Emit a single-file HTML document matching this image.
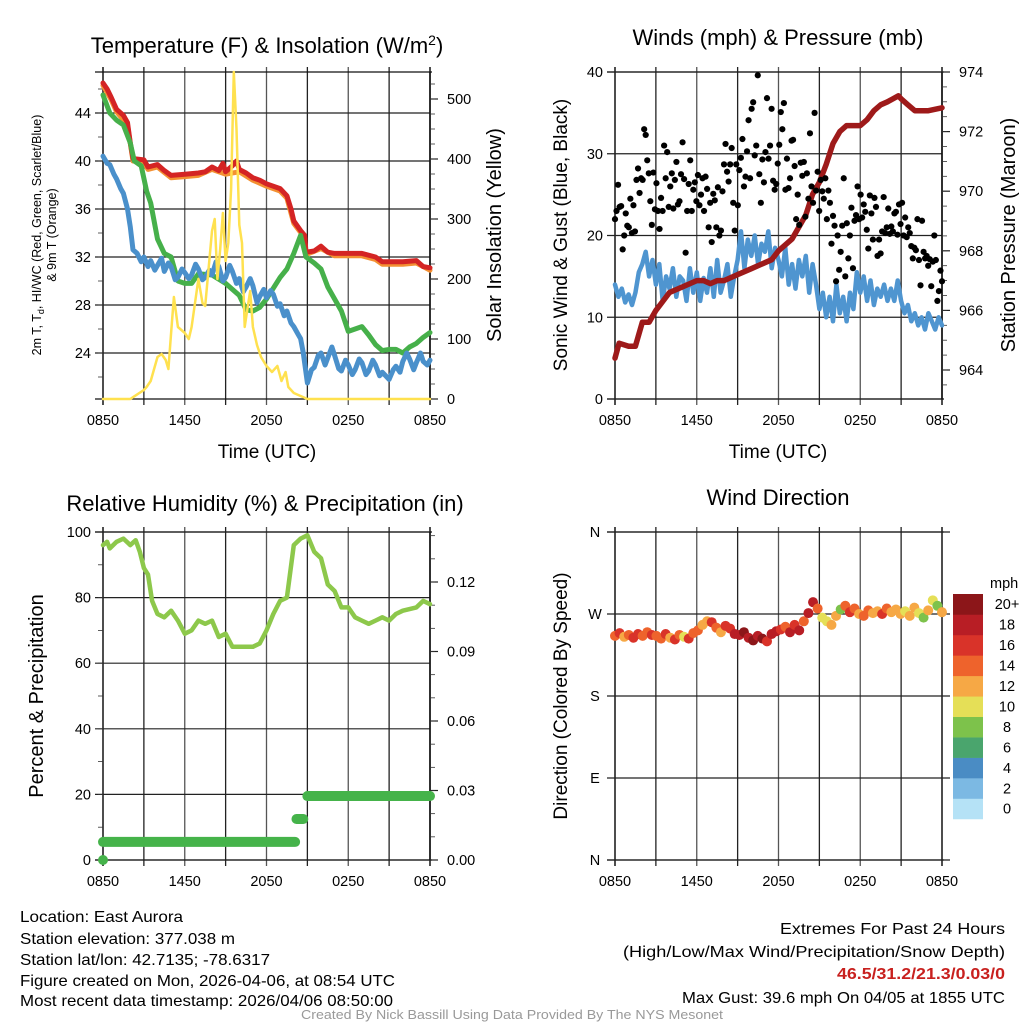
<!DOCTYPE html>
<html><head><meta charset="utf-8"><style>
body{margin:0;background:#fff}
svg{display:block;font-family:"Liberation Sans",sans-serif}
</style></head><body>
<svg id="c" width="1024" height="1024" viewBox="0 0 1024 1024" xmlns="http://www.w3.org/2000/svg">
<rect width="1024" height="1024" fill="#fff"/>
<text x="267" y="53" font-size="22" text-anchor="middle">Temperature (F) &amp; Insolation (W/m<tspan dy="-8" font-size="14">2</tspan><tspan dy="8">)</tspan></text>
<text x="778" y="45" font-size="22" text-anchor="middle">Winds (mph) &amp; Pressure (mb)</text>
<text x="265" y="511" font-size="22" text-anchor="middle">Relative Humidity (%) &amp; Precipitation (in)</text>
<text x="778" y="505" font-size="22" text-anchor="middle">Wind Direction</text>
<text x="267" y="458" font-size="19" text-anchor="middle">Time (UTC)</text>
<text x="778" y="458" font-size="19" text-anchor="middle">Time (UTC)</text>
<text transform="translate(41,235) rotate(-90)" font-size="12.5" text-anchor="middle">2m T, T<tspan dy="3" font-size="9">d</tspan><tspan dy="-3">, HI/WC (Red, Green, Scarlet/Blue)</tspan></text>
<text transform="translate(56,235) rotate(-90)" font-size="12.5" text-anchor="middle">&amp; 9m T (Orange)</text>
<text transform="translate(501,235) rotate(-90)" font-size="20" text-anchor="middle">Solar Insolation (Yellow)</text>
<text transform="translate(567,235) rotate(-90)" font-size="19" text-anchor="middle">Sonic Wind &amp; Gust (Blue, Black)</text>
<text transform="translate(1015,235) rotate(-90)" font-size="20" text-anchor="middle">Station Pressure (Maroon)</text>
<text transform="translate(43,696) rotate(-90)" font-size="20" text-anchor="middle">Percent &amp; Precipitation</text>
<text transform="translate(567,696) rotate(-90)" font-size="19" text-anchor="middle">Direction (Colored By Speed)</text>
<g id="p1"></g>
<g id="p2"></g>
<g id="p3"></g>
<g id="p4"></g>
<g font-size="16">
<text x="20" y="922" textLength="163" lengthAdjust="spacingAndGlyphs">Location: East Aurora</text>
<text x="20" y="944" textLength="215" lengthAdjust="spacingAndGlyphs">Station elevation: 377.038 m</text>
<text x="20" y="965" textLength="250" lengthAdjust="spacingAndGlyphs">Station lat/lon: 42.7135; -78.6317</text>
<text x="20" y="986" textLength="375" lengthAdjust="spacingAndGlyphs">Figure created on Mon, 2026-04-06, at 08:54 UTC</text>
<text x="20" y="1006" textLength="373" lengthAdjust="spacingAndGlyphs">Most recent data timestamp: 2026/04/06 08:50:00</text>
</g>
<g font-size="16" text-anchor="end">
<text x="1005" y="934" textLength="225" lengthAdjust="spacingAndGlyphs">Extremes For Past 24 Hours</text>
<text x="1005" y="957" textLength="382" lengthAdjust="spacingAndGlyphs">(High/Low/Max Wind/Precipitation/Snow Depth)</text>
<text x="1005" y="979" textLength="168" lengthAdjust="spacingAndGlyphs" fill="#c8201e" font-weight="bold">46.5/31.2/21.3/0.03/0</text>
<text x="1005" y="1003" textLength="323" lengthAdjust="spacingAndGlyphs">Max Gust: 39.6 mph On 04/05 at 1855 UTC</text>
</g>
<text x="512" y="1019" font-size="13" fill="#999" text-anchor="middle" textLength="422" lengthAdjust="spacingAndGlyphs">Created By Nick Bassill Using Data Provided By The NYS Mesonet</text>
</svg>
<script>
const xTickLabels = ["0850","1450","2050","0250","0850"];
const tempTicks = [24,28,32,36,40,44];
const solarTicks = [0,100,200,300,400,500];
const windTicks = [0,10,20,30,40];
const presTicks = [964,966,968,970,972,974];
const rhTicks = [0,20,40,60,80,100];
const precipTicks = [0.00,0.03,0.06,0.09,0.12];
const dirTickLabels = ["N","E","S","W","N"];
const speedBinLabels = ["0","2","4","6","8","10","12","14","16","18","20+"];

const tempRed = [[0,46.5],[0.3,46],[0.6,45.3],[1,44.3],[1.5,43.8],[1.8,43.2],[2,41.5],[2.2,40.2],[3,40.1],[3.3,39.5],[4,39.7],[4.5,39.2],[5,38.8],[6,38.9],[7,39],[7.5,39.1],[8,39.5],[8.5,39.2],[8.8,39.8],[9,39.1],[9.5,39.6],[9.8,40],[10,39.3],[10.5,39],[11,38.6],[11.5,38.4],[12,38.1],[13,37.7],[13.5,37.1],[13.8,36],[14,35],[14.5,34.2],[14.8,33.8],[14.9,32.4],[15.5,32.5],[16,32.9],[16.5,32.4],[17,32.3],[18,32.3],[19,32.3],[20,32],[20.5,31.6],[21,31.6],[22,31.6],[23,31.7],[23.5,31.2],[24,31.1]];
const tempOrange = [[0,46.3],[0.6,45.1],[1,44.1],[1.8,43],[2.2,40],[3,39.9],[3.3,39.3],[4,39.5],[5,38.6],[6,38.7],[7,38.8],[8,39.3],[9,38.9],[10,39.1],[11,38.4],[12,37.9],[13,37.5],[13.5,36.9],[14,34.8],[14.8,33.6],[14.9,32.2],[16,32.7],[17,32.1],[19,32.1],[20,31.8],[20.5,31.4],[22,31.4],[23,31.5],[24,30.9]];
const tempGreen = [[0,45.5],[0.5,44],[1,43.4],[1.5,43],[2,41.5],[2.3,40],[2.8,39.6],[3.2,37.5],[3.5,36.5],[4,33.5],[4.5,32.3],[5,32],[5.5,30],[6,29.8],[6.5,29.8],[7,30.6],[8,30.5],[9,29.8],[9.5,29.3],[10,28.8],[10.5,27.6],[11,27.5],[11.5,27.8],[12,28.5],[13,30.3],[13.5,31],[14,32.3],[14.5,33.8],[14.9,32],[15.5,31.5],[16,31],[16.5,29.5],[17,28.5],[17.5,27.5],[18,25.8],[18.5,26],[19,26.2],[19.5,25.5],[20,24.7],[20.5,24.2],[21,24.3],[21.5,24.3],[22,24],[22.5,24.5],[23,24.8],[23.5,25.3],[24,25.7]];
const tempBlue = [[0,40.4],[0.3,39.8],[0.5,39.7],[0.8,38.9],[1,38.5],[1.3,37.7],[1.5,37.3],[1.8,36],[2,34.5],[2.2,32.6],[2.5,32.3],[2.8,31.6],[3,32],[3.3,31.2],[3.5,31.7],[3.8,30.9],[4,31.3],[4.3,31.9],[4.5,30.8],[4.8,31.5],[5,31.2],[5.3,30.1],[5.5,30.3],[5.8,31],[6,30.7],[6.3,30.2],[6.5,30.5],[6.8,31.4],[7,31],[7.3,30.1],[7.5,30.3],[7.8,30.9],[8,30.5],[8.3,31.6],[8.5,31.2],[8.8,30],[9,30.3],[9.3,31.3],[9.5,30.8],[9.8,29.8],[10,30.2],[10.3,29.1],[10.5,29.5],[10.8,30.2],[11,29.6],[11.3,28.2],[11.5,28.7],[11.8,29.3],[12,28.6],[12.3,29.2],[12.5,28.9],[12.8,27.9],[13,28.1],[13.3,27.1],[13.5,27.5],[13.8,26.5],[14,26.2],[14.3,25.6],[14.5,25.2],[14.7,24],[15,21.5],[15.3,22.6],[15.5,22.8],[15.8,23.8],[16,24],[16.3,23],[16.5,23.6],[16.8,24.5],[17,23.8],[17.3,22.7],[17.5,22.5],[17.8,23.4],[18,23],[18.3,22.2],[18.5,22.6],[18.8,23.5],[19,23.2],[19.3,22.2],[19.5,22.5],[19.8,23.4],[20,23],[20.3,22.1],[20.5,22.4],[21,21.8],[21.3,22.6],[21.5,22.9],[21.8,22.4],[22,23.3],[22.3,24],[22.5,23.5],[22.8,22.6],[23,23.2],[23.3,24],[23.5,23.3],[23.8,23],[24,23.4]];
const solar = [[0,0],[2,0],[2.2,3],[3,15],[3.2,20],[3.5,30],[4,70],[4.3,75],[4.6,65],[4.8,50],[5,110],[5.2,170],[5.5,120],[6,110],[6.3,100],[6.5,120],[7,200],[7.3,160],[7.5,155],[8,280],[8.2,300],[8.4,200],[8.6,250],[8.8,310],[9,230],[9.2,260],[9.4,350],[9.6,545],[9.8,450],[10,290],[10.2,260],[10.4,120],[10.6,150],[10.8,180],[11,120],[11.3,90],[11.6,70],[12,55],[12.4,45],[12.8,55],[13.1,30],[13.4,45],[13.6,20],[14,10],[14.5,5],[15,0],[24,0]];

const windSust = [14,12.5,13.5,11.8,12.8,11.5,13,15.5,16.5,18,15,17,14,16.5,12,15,13.5,16,12.5,15,14.5,12,16,13,15.5,12,14.8,13,16,12.5,17,13,14.5,16.5,12.5,15,17,20.5,16,19.5,17.5,20,16.5,19,18,20.5,16,18.5,17,15,18.5,14,16.5,13.5,17,15,17.5,13,16.5,14,11,13,10,12.5,9.5,14,10.5,12.5,9.5,13,11,15.5,13,15,12,14.5,11.5,13.5,12.5,14,12,13.5,12,14.5,12,10.5,11.5,9.5,10.5,9,10,8.5,10.5,9.5,8.5,10,9];
const windGust = [22,23,26.2,23.5,23.6,18.3,20,22.7,21.2,21,24.5,20.3,23.7,20.5,26.8,28.2,25.2,27,26.8,33,32.3,29.2,27.6,24.2,21.3,27.7,23.2,26.4,23,20.8,24.6,23,31,27,30.2,23.5,26,27.6,23.3,26.8,29,23.8,24.2,27.5,31.4,26.9,17.9,23,26.3,29.2,23,25.6,26.5,24.2,27.4,23.7,25,27,23,27.2,25.7,21,24,19.2,25.1,24.3,21,25.9,20,20.6,25.4,28.7,31.2,27.8,26.6,28.7,30.7,24,20.6,28.7,23.7,28,29.5,31.8,26,27.2,30.3,34.1,27,35.5,36.3,29.8,31,39.6,27.5,24,29.3,26.5,30.2,36.8,29.4,31,35.5,26.7,25.6,26.3,28.8,31.1,35.1,33,36.2,25.6,29.4,25.8,27,31.6,31.7,28.5,22,25,21.3,28.9,27.3,29,22.3,27.6,24.5,32.5,26,24,35,25.5,27.8,23,26.8,25.4,24.5,27,22,25.5,24,19,22.4,21.2,14.4,20,15.8,18,21.2,27,15,21.5,17.2,20,23.4,16,21.8,22.5,26,22,25,22.2,23.8,22.9,20.7,18.4,24.9,22.7,19.5,24.6,23.5,17.5,19.5,17.8,20.5,24.7,20.3,21,23.3,20.2,21.1,20.5,22.7,22.9,20.1,23.8,21.4,24,20,22.2,19.8,21,20.3,18.7,17.2,18.5,18.2,22,17,13.9,21.8,18,17.2,17.5,16.3,17.1,13.8,16.8,20,17,12,13.2,15.7,14.4];
const pressure = [[0,964.4],[0.3,964.9],[1,964.8],[1.5,964.8],[2,965.6],[2.5,965.6],[3,966],[3.5,966.3],[4,966.6],[5,966.8],[6,967],[6.5,967],[7,966.9],[7.5,967],[8,967],[9,967.2],[10,967.4],[11,967.6],[11.5,967.7],[12,968],[13,968.4],[14,969.2],[14.5,969.9],[15,970.3],[15.5,970.9],[16,971.6],[16.5,972],[17,972.2],[17.5,972.2],[18,972.2],[18.5,972.4],[19,972.7],[19.5,972.9],[20,973],[20.8,973.2],[21,973.1],[21.5,972.9],[22,972.7],[22.5,972.7],[23,972.7],[24,972.8]];

const rh = [[0,96],[0.3,97],[0.5,95],[1,97],[1.5,98],[2,96],[2.4,97.5],[2.7,94],[3,89],[3.3,87],[3.6,79],[4,75],[4.5,74],[5,76],[5.5,73],[6,69],[6.5,70],[7,73],[7.5,72],[8,73],[8.5,68],[9,69],[9.5,65],[10,65],[10.5,65],[11,65],[11.5,66],[12,70],[12.5,75],[13,79],[13.5,80],[14,96],[14.5,98],[15,99],[15.5,94],[16,92],[16.5,84],[17,82],[17.5,77],[18,77],[18.5,74],[19,73],[19.5,72],[20,73],[20.5,74],[21,73],[21.5,75],[22,76],[23,77],[23.5,79],[24,78]];
const precipSegs = [[0,0,0],[0,14.1,0.0078],[14.2,14.7,0.0177],[15,24,0.0276]];

const dirs = [246,249,245,247,244,248,246,250,247,246,243,248,244,242,247,245,243,249,252,258,262,261,255,250,257,254,248,247,250,244,241,246,243,240,248,251,253,256,250,258,252,262,271,283,276,266,262,258,268,275,279,272,276,270,268,274,271,273,270,276,272,275,270,273,268,277,271,266,274,285,279,272];
const speeds = [14,16,13,15,17,16,15,14,16,15,14,16,13,17,15,11,16,15,14,13,12,16,15,13,17,16,18,19,20,18,21,19,20,17,18,19,17,15,18,16,19,15,18,19,15,11,10,12,13,8,14,17,15,13,15,14,13,12,16,14,13,12,13,11,12,13,10,8,12,10,8,12];
const binColors = ["#b5e2f6","#7cb9e3","#4a8cc4","#4aa56d","#7dc24b","#e5df57","#f6a845","#ee632c","#d93329","#b81e25","#8c1619"];

const NS = "http://www.w3.org/2000/svg";
function el(tag, attrs, parent, name) {
  const e = document.createElementNS(NS, tag);
  for (const k in attrs) e.setAttribute(k, attrs[k]);
  
  
  parent.appendChild(e);
  return e;
}
function lin(d0, d1, r0, r1) { return v => r0 + (v - d0) * (r1 - r0) / (d1 - d0); }
function frame(g, P, pfx) {
  const xs = lin(0, 24, P.x0, P.x1);
  for (let h = 0; h <= 24; h += 3) {
    const x = xs(h);
    el('line', {x1: x, x2: x, y1: P.y0 - 5, y2: P.y1 + 6, stroke: (h % 6 === 0 && h > 0 && h < 24) ? '#555' : '#222', 'stroke-width': (h === 0 || h === 24) ? 1.6 : 1.3}, g, pfx + '-x-gridline');
  }
  xTickLabels.forEach((t, i) => {
    const tx = el('text', {x: xs(i * 6), y: P.y1 + 26, 'font-size': 14.5, 'text-anchor': 'middle'}, g, pfx + '-x-tick-label');
    tx.textContent = t;
  });
  el('line', {x1: P.x0 - 8, x2: P.x1 + 2, y1: P.y0, y2: P.y0, stroke: '#111', 'stroke-width': 1.3}, g, pfx + '-top-border');
  el('line', {x1: P.x0 - 8, x2: P.x1 + 2, y1: P.y1, y2: P.y1, stroke: '#111', 'stroke-width': 1.3}, g, pfx + '-bottom-border');
  return xs;
}
function leftAxis(g, P, pfx, ticks, ys, minorStep, lo, hi, fmt) {
  ticks.forEach(t => {
    const y = ys(t);
    el('line', {x1: P.x0 - 8, x2: P.x1, y1: y, y2: y, stroke: '#222', 'stroke-width': 1.2}, g, pfx + '-y-gridline');
    const tx = el('text', {x: P.x0 - 12, y: y + 5, 'font-size': 14.5, 'text-anchor': 'end'}, g, pfx + '-y-tick-label');
    tx.textContent = fmt ? fmt(t) : t;
  });
  if (minorStep) for (let v = lo; v <= hi + 1e-9; v += minorStep) {
    const y = ys(v);
    if (y > P.y0 && y < P.y1) el('line', {x1: P.x0 - 5, x2: P.x0, y1: y, y2: y, stroke: '#333', 'stroke-width': 0.8}, g, pfx + '-y-minor-tick');
  }
}
function rightAxis(g, P, pfx, ticks, ys, minorStep, lo, hi, fmt) {
  el('line', {x1: P.x1, x2: P.x1, y1: P.y0, y2: P.y1, stroke: '#111', 'stroke-width': 1.4}, g, pfx + '-right-axis-line');
  ticks.forEach(t => {
    const y = ys(t);
    el('line', {x1: P.x1, x2: P.x1 + 8, y1: y, y2: y, stroke: '#222', 'stroke-width': 1.2}, g, pfx + '-right-tick');
    const tx = el('text', {x: P.x1 + 17, y: y + 5, 'font-size': 14.5}, g, pfx + '-right-tick-label');
    tx.textContent = fmt ? fmt(t) : t;
  });
  if (minorStep) for (let v = lo; v <= hi + 1e-9; v += minorStep) {
    const y = ys(v);
    if (y > P.y0 && y < P.y1) el('line', {x1: P.x1, x2: P.x1 + 5, y1: y, y2: y, stroke: '#333', 'stroke-width': 0.8}, g, pfx + '-right-minor-tick');
  }
}
function path(g, pts, xs, ys, color, w, name) {
  const d = pts.map((p, i) => (i ? 'L' : 'M') + xs(p[0]).toFixed(1) + ',' + ys(p[1]).toFixed(1)).join('');
  return el('path', {d: d, fill: 'none', stroke: color, 'stroke-width': w, 'stroke-linejoin': 'round', 'stroke-linecap': 'round'}, g, name);
}
function evenPts(arr) { return arr.map((v, i) => [i * 24 / (arr.length - 1), v]); }

{
  const g = document.getElementById('p1');
  const P = {x0: 103, x1: 430, y0: 72, y1: 399};
  const xs = frame(g, P, 'temp');
  const yL = lin(44, 24, 113, 353);
  const yR = lin(0, 500, 399, 99);
  leftAxis(g, P, 'temp', tempTicks, yL, 2, 22, 46);
  rightAxis(g, P, 'solar', solarTicks, yR, 25, 0, 525);
  path(g, tempOrange, xs, yL, '#f39032', 5, 'temp-9m-orange-line');
  path(g, tempRed, xs, yL, '#d42424', 5, 'temp-2m-red-line');
  path(g, tempGreen, xs, yL, '#46b04a', 5, 'dewpoint-green-line');
  path(g, tempBlue, xs, yL, '#4a90cb', 5, 'windchill-blue-line');
  path(g, solar, xs, yR, '#ffe14f', 2.5, 'solar-yellow-line');
}
{
  const g = document.getElementById('p2');
  const P = {x0: 615, x1: 942, y0: 72, y1: 399};
  const xs = frame(g, P, 'winds');
  const yL = lin(0, 40, 399, 72);
  const yR = lin(964, 974, 370, 72);
  leftAxis(g, P, 'winds', windTicks, yL, 0, 0, 0);
  rightAxis(g, P, 'pressure', presTicks, yR, 0.5, 963, 974);
  path(g, evenPts(windSust), xs, yL, '#4f95d0', 4.5, 'sustained-wind-blue-line');
  path(g, pressure, xs, yR, '#9e1a1a', 5.5, 'pressure-maroon-line');
  const gp = evenPts(windGust);
  gp.forEach(p => {
    el('circle', {cx: xs(p[0]), cy: yL(p[1]), r: 3.1, fill: '#000'}, g, 'gust-dot');
  });
}
{
  const g = document.getElementById('p3');
  const P = {x0: 103, x1: 430, y0: 532, y1: 860};
  const xs = frame(g, P, 'rh');
  const yL = lin(0, 100, 860, 532);
  const yR = lin(0, 0.12, 860, 582);
  leftAxis(g, P, 'rh', rhTicks, yL, 10, 0, 100);
  rightAxis(g, P, 'precip', precipTicks, yR, 0.01, 0, 0.14, v => v.toFixed(2));
  path(g, rh, xs, yL, '#8dc84b', 4.5, 'relative-humidity-line');
  precipSegs.forEach(s => {
    el('line', {x1: xs(s[0]), x2: xs(s[1]), y1: yR(s[2]), y2: yR(s[2]), stroke: '#45b34a', 'stroke-width': 10, 'stroke-linecap': 'round'}, g, 'precip-segment');
  });
}
{
  const g = document.getElementById('p4');
  const P = {x0: 615, x1: 942, y0: 532, y1: 860};
  const xs = frame(g, P, 'dir');
  const yD = lin(0, 360, 860, 532);
  dirTickLabels.forEach((t, i) => {
    const y = yD(i * 90);
    el('line', {x1: P.x0 - 8, x2: P.x1 + 8, y1: y, y2: y, stroke: '#222', 'stroke-width': 1.2}, g, 'dir-y-gridline');
    const tx = el('text', {x: P.x0 - 20, y: y + 5, 'font-size': 14.5, 'text-anchor': 'middle'}, g, 'dir-y-tick-label');
    tx.textContent = t;
  });
  const dp = evenPts(dirs);
  dp.forEach((p, i) => {
    const bin = Math.min(10, Math.floor(speeds[i] / 2));
    el('circle', {cx: xs(p[0]), cy: yD(p[1]), r: 5, fill: binColors[bin]}, g, 'wind-direction-dot');
  });
  const cb = el('g', {}, g, 'speed-colorbar');
  const tl = el('text', {x: 990, y: 588, 'font-size': 14.5}, cb, 'colorbar-title');
  tl.textContent = 'mph';
  const bx = 953, bw = 30, top = 594, bh = 20.45;
  speedBinLabels.forEach((lab, i) => {
    const y = top + (10 - i) * bh;
    el('rect', {x: bx, y: y, width: bw, height: bh + 0.3, fill: binColors[i]}, cb, 'colorbar-swatch');
    const tx = el('text', {x: 1007, y: y + bh / 2 + 5, 'font-size': 14.5, 'text-anchor': 'middle'}, cb, 'colorbar-label');
    tx.textContent = lab;
  });
}
</script>
</body></html>
